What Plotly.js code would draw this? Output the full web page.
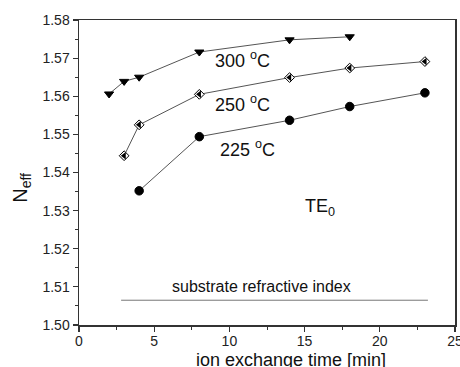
<!DOCTYPE html>
<html>
<head>
<meta charset="utf-8">
<script src="https://cdn.plot.ly/plotly-3.0.1.min.js"></script>
<style>
  html, body { margin: 0; padding: 0; background: #fff; }
  #chart { width: 460px; height: 367px; }
</style>
</head>
<body>
<div id="chart"></div>
<script>
// Effective index of the TE0 mode versus ion exchange time, for three bath temperatures
const time300 = [2, 3, 4, 8, 14, 18];
const neff300 = [1.5606, 1.5639, 1.5650, 1.5716, 1.5748, 1.5756];

const time250 = [3, 4, 8, 14, 18, 23];
const neff250 = [1.5444, 1.5525, 1.5605, 1.5649, 1.5674, 1.5691];

const time225 = [4, 8, 14, 18, 23];
const neff225 = [1.5352, 1.5494, 1.5537, 1.5573, 1.5609];

// Substrate refractive index level
const substrateX = [2.8, 23.2];
const substrateN = 1.5065;

const xTicks = [0, 5, 10, 15, 20, 25];
const yTicks = [1.50, 1.51, 1.52, 1.53, 1.54, 1.55, 1.56, 1.57, 1.58];

const FONT = 'Arial, "Liberation Sans", sans-serif';
const LINE_COLOR = '#555';

function series(x, y, symbol, size, fill) {
  return {
    x: x, y: y, type: 'scatter', mode: 'lines+markers',
    line: { color: LINE_COLOR, width: 1 },
    marker: { symbol: symbol, size: size, color: fill, line: { color: '#000', width: 1 } },
    showlegend: false, hoverinfo: 'skip'
  };
}

const traces = [
  {
    x: substrateX, y: substrateX.map(() => substrateN),
    type: 'scatter', mode: 'lines',
    line: { color: '#777', width: 1 },
    showlegend: false, hoverinfo: 'skip'
  },
  series(time300, neff300, 'triangle-down', 8, '#000'),
  series(time250, neff250, 'diamond', 7.5, '#fff'),
  // dark left half of the half-filled diamond markers
  {
    x: time250, y: neff250, type: 'scatter', mode: 'markers',
    marker: { symbol: 'triangle-left', size: 6.5, color: '#000', line: { width: 0 } },
    showlegend: false, hoverinfo: 'skip'
  },
  series(time225, neff225, 'circle', 8.5, '#000')
];

const axisCommon = {
  showgrid: false, zeroline: false,
  showline: true, linecolor: '#333', linewidth: 1.5, mirror: true,
  ticks: 'outside', ticklen: 5, tickwidth: 1.2, tickcolor: '#333',
  ticklabeloverflow: 'allow',
  tickfont: { family: FONT, size: 14, color: '#222' }
};

const layout = {
  width: 460, height: 367,
  margin: { l: 79, r: 5, t: 20, b: 42 },
  paper_bgcolor: '#fff', plot_bgcolor: '#fff',
  font: { family: FONT, color: '#111' },
  xaxis: Object.assign({}, axisCommon, {
    range: [0, 25], tickvals: xTicks, ticktext: xTicks.map(String),
    ticklabelstandoff: -2,
    minor: { dtick: 2.5, ticks: 'outside', ticklen: 3, tickcolor: '#333', tickwidth: 1 }
  }),
  yaxis: Object.assign({}, axisCommon, {
    range: [1.50, 1.58], tickvals: yTicks, ticktext: yTicks.map(v => v.toFixed(2)),
    minor: { dtick: 0.005, ticks: 'outside', ticklen: 3, tickcolor: '#333', tickwidth: 1 }
  }),
  annotations: [
    { x: 10.85, y: 1.5696, xref: 'x', yref: 'y', text: '300 <sup>o</sup>C', showarrow: false,
      font: { family: FONT, size: 18, color: '#111' } },
    { x: 10.85, y: 1.5582, xref: 'x', yref: 'y', text: '250 <sup>o</sup>C', showarrow: false,
      font: { family: FONT, size: 18, color: '#111' } },
    { x: 11.2, y: 1.5464, xref: 'x', yref: 'y', text: '225 <sup>o</sup>C', showarrow: false,
      font: { family: FONT, size: 18, color: '#111' } },
    { x: 16.0, y: 1.5307, xref: 'x', yref: 'y', text: 'TE<sub>0</sub>', showarrow: false,
      font: { family: FONT, size: 18, color: '#111' } },
    { x: 12.15, y: 1.5100, xref: 'x', yref: 'y', text: 'substrate refractive index', showarrow: false,
      font: { family: FONT, size: 16, color: '#111' } },
    { x: 0.565, y: -0.076, xref: 'paper', yref: 'paper', yanchor: 'top',
      text: 'ion exchange time [min]', showarrow: false,
      font: { family: FONT, size: 18, color: '#111' } },
    { x: -0.19, y: 0.45, xref: 'paper', yref: 'paper', textangle: -90,
      text: 'N<sub>eff</sub>', showarrow: false,
      font: { family: FONT, size: 20, color: '#111' } }
  ]
};

Plotly.newPlot('chart', traces, layout, { staticPlot: true, displayModeBar: false });
</script>
</body>
</html>
